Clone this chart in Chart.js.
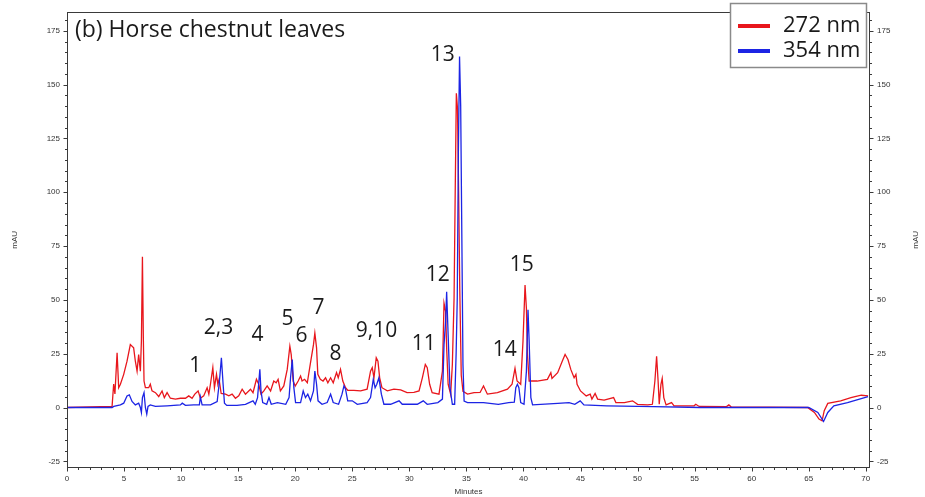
<!DOCTYPE html>
<html><head><meta charset="utf-8">
<script src="https://cdn.jsdelivr.net/npm/chart.js@4.4.0/dist/chart.umd.min.js"></script>
<style>html,body{margin:0;padding:0;background:#fff;}#wrap{width:925px;height:497px;position:relative;}</style>
</head><body><div id="wrap"><canvas id="c" width="925" height="497"></canvas></div>
<script>
const chartTitle = '(b) Horse chestnut leaves';
const seriesNames = ['272 nm', '354 nm'];
const xAxisTitle = 'Minutes';
const yAxisTitle = 'mAU';
const xTickLabels = [0, 5, 10, 15, 20, 25, 30, 35, 40, 45, 50, 55, 60, 65, 70];
const yTickLabels = [-25, 0, 25, 50, 75, 100, 125, 150, 175];

const redTime = [0, 3.95, 4.09, 4.2, 4.39, 4.53, 4.68, 4.97, 5.26, 5.55, 5.84, 5.99, 6.14, 6.28, 6.43, 6.52, 6.61, 6.69, 6.75, 6.87, 7.16, 7.3, 7.45, 7.75, 8.04, 8.33, 8.53, 8.77, 9.06, 9.5, 9.94, 10.38, 10.67, 10.96, 11.2, 11.49, 11.69, 11.98, 12.28, 12.43, 12.57, 12.78, 12.92, 13.1, 13.22, 13.33, 13.51, 13.89, 14.18, 14.47, 14.76, 15.05, 15.35, 15.64, 16.08, 16.3, 16.6, 16.8, 17.0, 17.25, 17.54, 17.84, 18.12, 18.33, 18.5, 18.7, 19.0, 19.3, 19.53, 19.65, 19.82, 20.0, 20.26, 20.47, 20.6, 20.82, 21.06, 21.34, 21.6, 21.72, 21.87, 21.98, 22.2, 22.44, 22.66, 22.86, 23.1, 23.33, 23.62, 23.77, 23.97, 24.17, 24.41, 24.6, 25.14, 25.73, 26.3, 26.6, 26.75, 26.9, 27.1, 27.25, 27.4, 27.6, 28.07, 28.65, 29.24, 29.8, 30.4, 30.85, 31.14, 31.4, 31.57, 31.78, 32.0, 32.6, 32.9, 33.04, 33.18, 33.27, 33.4, 33.62, 33.77, 33.92, 34.02, 34.12, 34.22, 34.32, 34.42, 34.55, 34.7, 35.1, 35.67, 36.2, 36.5, 36.84, 37.72, 38.6, 39.0, 39.26, 39.44, 39.76, 39.96, 40.14, 40.26, 40.35, 40.5, 40.64, 41.2, 42.1, 42.4, 42.5, 43.0, 43.4, 43.65, 43.9, 44.15, 44.44, 44.6, 44.7, 45.0, 45.5, 45.85, 46.0, 46.28, 46.5, 47.07, 47.9, 48.1, 48.85, 49.56, 50.0, 50.88, 51.3, 51.52, 51.67, 51.8, 51.9, 52.05, 52.16, 52.3, 52.5, 52.98, 53.2, 54.96, 55.1, 55.4, 57.8, 58.0, 58.2, 64.9, 65.5, 65.9, 66.17, 66.36, 66.67, 67.8, 68.7, 69.6, 70.2];
const redValue = [0, 0.5, 10.9, 6.3, 25.4, 9.2, 10.8, 15.4, 21.5, 29.2, 27.7, 21.5, 16.9, 24.6, 16.9, 30.8, 70, 32.3, 12.3, 9.2, 9.2, 10.8, 7.7, 6.9, 5.1, 7.7, 4.6, 6.9, 4.3, 3.9, 4.3, 4.3, 5.4, 4.3, 6.2, 7.7, 4.3, 5.4, 9.2, 6.2, 10.8, 18.5, 9.2, 15.4, 10.8, 13.1, 6.5, 6.2, 5.4, 6.2, 4.3, 5.4, 8.5, 6.2, 8.5, 6.9, 13.1, 10.8, 6.2, 7.7, 10, 7.7, 12.3, 11.5, 13.1, 7.7, 10, 17.7, 28.5, 24.6, 12.3, 10, 12.3, 14.6, 12.3, 13.1, 11.5, 20.8, 29.2, 34.6, 27.7, 15.4, 13.1, 12.3, 13.8, 11.5, 13.8, 11.5, 16.2, 13.8, 17.7, 12.3, 9.2, 8.0, 8.0, 7.7, 8.5, 16.9, 18.5, 13.8, 23.1, 21.5, 13.8, 9.2, 7.7, 8.5, 8.2, 6.9, 7.0, 7.7, 13.8, 20.0, 18.5, 10.8, 6.9, 6.2, 16.9, 48.4, 44.6, 27.7, 10.8, 6.2, 20, 50.7, 100, 146, 139, 100, 55, 15, 7.5, 6.2, 6.9, 7.0, 10, 6.2, 6.9, 8.5, 10.8, 18.2, 12.3, 10.8, 30.8, 56.9, 46, 25, 12.3, 12.3, 12.3, 13.1, 16.2, 13.5, 16.2, 21.5, 24.6, 22.3, 17.7, 13.8, 15.4, 10.8, 7.7, 5.4, 6.2, 3.9, 6.5, 3.9, 3.4, 4.6, 2.3, 2.3, 3.1, 1.5, 1.2, 1.5, 12.3, 23.8, 12.3, 1.5, 10.8, 13.5, 4.6, 1.2, 2.3, 0.8, 0.8, 1.5, 0.5, 0.4, 1.2, 0.3, 0, -2.3, -5.4, -6.2, -1.5, 1.9, 3.1, 4.6, 5.7, 5.4];

const blueTime = [0, 3.95, 4.1, 4.68, 4.97, 5.26, 5.46, 5.7, 5.99, 6.28, 6.43, 6.52, 6.61, 6.75, 6.87, 6.99, 7.1, 7.3, 7.75, 8.77, 9.94, 10.1, 10.38, 11.1, 11.6, 11.69, 11.84, 12.57, 13.16, 13.36, 13.53, 13.68, 13.8, 14.0, 14.9, 15.64, 16.3, 16.5, 16.7, 16.9, 17.0, 17.15, 17.5, 17.7, 17.9, 18.44, 19.17, 19.46, 19.59, 19.74, 19.88, 20.03, 20.47, 20.7, 20.9, 21.1, 21.34, 21.6, 21.72, 21.87, 22.0, 22.35, 22.8, 23.1, 23.33, 23.8, 24.1, 24.27, 24.41, 24.6, 25.0, 25.44, 26.3, 26.6, 26.84, 27.0, 27.15, 27.33, 27.55, 27.77, 28.36, 29.1, 29.38, 30.7, 31.22, 31.57, 32.5, 32.9, 33.04, 33.18, 33.27, 33.4, 33.56, 33.77, 33.97, 34.1, 34.2, 34.3, 34.4, 34.5, 34.6, 34.7, 34.8, 35.1, 36.5, 37.8, 38.7, 39.2, 39.33, 39.47, 39.6, 39.76, 40.05, 40.26, 40.4, 40.5, 40.65, 40.8, 43.0, 44.0, 44.5, 44.97, 45.3, 47.3, 51.4, 55.5, 65.0, 65.8, 66.3, 66.67, 67.2, 68.4, 70.2];
const blueValue = [0, 0, 0.5, 1.2, 2.0, 5.4, 5.9, 2.8, 1.2, 2.0, 0, -2.3, 4.6, 6.9, 0, -3.1, 0.5, 1.2, 0.5, 0.8, 1.2, 2.0, 1.0, 1.2, 1.2, 4.9, 1.2, 1.2, 2.8, 12.3, 23.1, 10.8, 2.0, 1.0, 1.0, 1.5, 3.1, 1.5, 4.6, 17.7, 7.7, 2.3, 1.5, 4.6, 1.5, 2.3, 1.5, 4.6, 13.8, 22.3, 9.2, 2.3, 2.3, 7.7, 4.6, 6.2, 3.1, 7.7, 16.9, 10.8, 3.1, 1.5, 2.3, 6.2, 2.3, 1.5, 6.2, 10, 8.5, 3.1, 3.1, 1.5, 2.3, 4.6, 13.1, 9.2, 10.8, 13.8, 6.2, 1.5, 1.5, 3.1, 1.5, 1.5, 3.1, 1.5, 2.3, 3.9, 29.2, 40, 53.8, 33.8, 9.2, 1.5, 1.5, 25, 50.7, 120, 163, 140, 80, 20, 3, 2.3, 2.3, 1.5, 2.3, 2.5, 9.2, 10.8, 9.2, 2.3, 1.5, 16.9, 45.4, 30.8, 4.6, 1.2, 1.9, 2.3, 1.5, 3.1, 1.2, 0.8, 0.4, 0, 0, -2.3, -6.5, -2.3, 0.8, 2.3, 5.1];

const peakLabels = ['1', '2,3', '4', '5', '6', '7', '8', '9,10', '11', '12', '13', '14', '15'];
const peakLabelTime = [11.25, 13.27, 16.69, 19.33, 20.55, 22.05, 23.54, 27.13, 31.26, 32.48, 32.92, 38.36, 39.85];
const peakLabelValue = [19.2, 36.8, 33.5, 40.9, 33.1, 46.0, 24.8, 35.4, 29.4, 61.7, 163.6, 26.6, 66.3];

const RED = 'rgb(232,22,28)';
const BLUE = 'rgb(28,36,228)';
const AXIS = '#3a3a3a';
const TICKFONT = {family: 'Liberation Sans, Arial, sans-serif', size: 8};

const toPoints = (xs, ys) => xs.map((x, i) => ({x: x, y: ys[i]}));

const decor = {
  id: 'decor',
  afterDraw(chart) {
    const ctx = chart.ctx, ca = chart.chartArea;
    const xs = chart.scales.x, ys = chart.scales.y;
    ctx.save();
    ctx.strokeStyle = AXIS; ctx.lineWidth = 1;
    ctx.strokeRect(Math.round(ca.left) + 0.5, Math.round(ca.top) + 0.5, Math.round(ca.right - ca.left) - 1, Math.round(ca.bottom - ca.top) - 1);
    ctx.beginPath();
    const bx = Math.round(ca.bottom) - 0.5;
    for (let v = 0; v <= 70; v += 1) {
      const px = Math.round(xs.getPixelForValue(v)) + 0.5;
      const len = (v % 5 === 0) ? 4 : 2.5;
      ctx.moveTo(px, bx); ctx.lineTo(px, bx + len);
    }
    const lx = Math.round(ca.left) + 0.5, rx = Math.round(ca.right) - 0.5;
    for (let v = -25; v <= 180; v += 5) {
      const py = Math.round(ys.getPixelForValue(v)) + 0.5;
      const len = (v % 25 === 0) ? 4 : 2.5;
      ctx.moveTo(lx, py); ctx.lineTo(lx - len, py);
      ctx.moveTo(rx, py); ctx.lineTo(rx + len, py);
    }
    ctx.stroke();
    ctx.fillStyle = '#333';
    ctx.font = '8px "Liberation Sans", Arial, sans-serif';
    ctx.textAlign = 'center'; ctx.textBaseline = 'middle';
    ctx.fillText(xAxisTitle, (ca.left + ca.right) / 2, 492);
    const my = (ca.top + ca.bottom) / 2;
    ctx.save(); ctx.translate(15, my); ctx.rotate(-Math.PI / 2); ctx.fillText(yAxisTitle, 0, 0); ctx.restore();
    ctx.save(); ctx.translate(916, my); ctx.rotate(-Math.PI / 2); ctx.fillText(yAxisTitle, 0, 0); ctx.restore();
    ctx.fillStyle = '#1a1a1a';
    ctx.font = '23px "Open Sans", "Noto Sans", sans-serif';
    ctx.textAlign = 'left';
    ctx.fillText(chartTitle, ca.left + 8, 30);
    ctx.font = '21px "Open Sans", "Noto Sans", sans-serif';
    ctx.textAlign = 'center';
    peakLabels.forEach((t, i) => {
      ctx.fillText(t, xs.getPixelForValue(peakLabelTime[i]), ys.getPixelForValue(peakLabelValue[i]));
    });
    const lr = ca.right - 3, lw = 137, lt = 3, lh = 65;
    ctx.fillStyle = '#fff';
    ctx.fillRect(lr - lw, lt, lw, lh);
    ctx.strokeStyle = '#8a8a8a'; ctx.lineWidth = 1.5;
    ctx.strokeRect(lr - lw + 0.5, lt + 0.5, lw - 1, lh - 1);
    const cols = [RED, BLUE];
    seriesNames.forEach((n, i) => {
      const y = 26 + i * 25;
      ctx.strokeStyle = cols[i]; ctx.lineWidth = 4;
      ctx.beginPath(); ctx.moveTo(lr - lw + 8, y); ctx.lineTo(lr - lw + 40, y); ctx.stroke();
      ctx.fillStyle = '#1a1a1a';
      ctx.font = '22px "Open Sans", "Noto Sans", sans-serif';
      ctx.textAlign = 'left';
      ctx.fillText(n, lr - lw + 53, y);
    });
    ctx.restore();
  }
};

const yScaleCommon = (pos) => ({
  type: 'linear', position: pos, min: -28.1, max: 183.8,
  grid: {display: false, drawTicks: false, tickLength: 0},
  border: {display: false},
  afterBuildTicks: (s) => { s.ticks = yTickLabels.map(v => ({value: v})); },
  ticks: {font: TICKFONT, color: '#333', padding: 7, callback: (v) => String(v)}
});

new Chart(document.getElementById('c'), {
  type: 'line',
  data: {
    datasets: [
      {label: seriesNames[0], data: toPoints(redTime, redValue), borderColor: RED, borderWidth: 1.3, pointRadius: 0, tension: 0, order: 2},
      {label: seriesNames[1], data: toPoints(blueTime, blueValue), borderColor: BLUE, borderWidth: 1.3, pointRadius: 0, tension: 0, order: 1}
    ]
  },
  options: {
    responsive: false, animation: false, devicePixelRatio: 1,
    layout: {padding: {top: 8, left: 0, right: 0, bottom: 0}},
    plugins: {legend: {display: false}, tooltip: {enabled: false}},
    scales: {
      x: {
        type: 'linear', min: 0, max: 70.37,
        grid: {display: false, drawTicks: false, tickLength: 0},
        border: {display: false},
        afterBuildTicks: (s) => { s.ticks = xTickLabels.map(v => ({value: v})); },
        afterFit: (s) => { s.height = 29; },
        ticks: {font: TICKFONT, color: '#333', padding: 6, maxRotation: 0, autoSkip: false, callback: (v) => String(v)}
      },
      y: Object.assign(yScaleCommon('left'), {afterFit: (s) => { s.width = 67; }}),
      y2: Object.assign(yScaleCommon('right'), {afterFit: (s) => { s.width = 55; }})
    }
  },
  plugins: [decor]
});
</script>
</body></html>
